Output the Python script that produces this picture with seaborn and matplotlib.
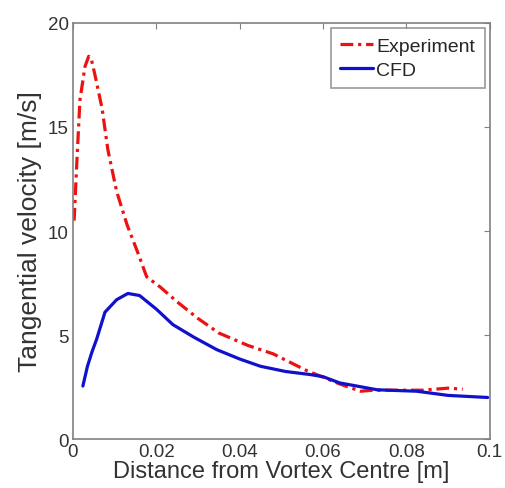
import numpy as np
import pandas as pd
import matplotlib
matplotlib.use("Agg")
import matplotlib.pyplot as plt
import seaborn as sns

exp_x = [0.0003, 0.0010, 0.0017, 0.0029, 0.0038, 0.0045, 0.0053, 0.0070, 0.0084, 0.0105,
         0.0130, 0.0155, 0.0177, 0.0210, 0.0250, 0.0300, 0.0350, 0.0420, 0.0480, 0.0520,
         0.0560, 0.0640, 0.0690, 0.0720, 0.0780, 0.0840, 0.0900, 0.0935]
exp_y = [10.5, 13.5, 16.3, 17.9, 18.4, 18.2, 17.5, 15.9, 13.9, 11.9,
         10.3, 9.0, 7.8, 7.3, 6.6, 5.8, 5.1, 4.5, 4.1, 3.7,
         3.3, 2.65, 2.3, 2.35, 2.35, 2.35, 2.45, 2.4]

cfd_x = [0.0024, 0.0035, 0.0046, 0.0057, 0.0077, 0.0105, 0.0132, 0.0160, 0.0200, 0.0240,
         0.0290, 0.0345, 0.0400, 0.0450, 0.0510, 0.0570, 0.0600, 0.0640, 0.0730, 0.0825,
         0.0900, 0.0995]
cfd_y = [2.55, 3.5, 4.2, 4.8, 6.1, 6.7, 7.0, 6.9, 6.25, 5.5,
         4.9, 4.3, 3.85, 3.5, 3.25, 3.1, 3.0, 2.7, 2.37, 2.3,
         2.1, 2.0]

df = pd.concat([
    pd.DataFrame({"x": exp_x, "y": exp_y, "series": "Experiment"}),
    pd.DataFrame({"x": cfd_x, "y": cfd_y, "series": "CFD"}),
])

sns.set_style("white")
plt.rcParams["font.family"] = ["Liberation Sans", "DejaVu Sans"]

fig = plt.figure(figsize=(5.06, 4.89), dpi=100)
ax = fig.add_axes([0.144, 0.100, 0.824, 0.851])

sns.lineplot(data=df, x="x", y="y", hue="series", style="series",
             palette={"Experiment": "#ee1111", "CFD": "#1111cc"},
             dashes={"Experiment": (4, 1.5, 1, 1.5), "CFD": ""},
             linewidth=2.3, sort=False, ax=ax)

ax.set_xlim(0, 0.1)
ax.set_ylim(0, 20)
ax.set_xticks([0, 0.02, 0.04, 0.06, 0.08, 0.1])
ax.set_xticklabels(["0", "0.02", "0.04", "0.06", "0.08", "0.1"])
ax.set_yticks([0, 5, 10, 15, 20])
ax.set_xlabel("Distance from Vortex Centre [m]", fontsize=17, color="#333333", labelpad=0)
ax.set_ylabel("Tangential velocity [m/s]", fontsize=19, color="#333333", labelpad=4)
ax.tick_params(direction="in", length=4, top=True, right=True, labelsize=13.5,
               colors="#808080", labelcolor="#333333", pad=3)
for s in ax.spines.values():
    s.set_color("#808080")
    s.set_linewidth(1.2)

leg = ax.legend(loc="upper right", fontsize=14, frameon=True, fancybox=False,
                edgecolor="#808080", handlelength=1.7, handletextpad=0.15,
                borderpad=0.5, labelspacing=0.3, borderaxespad=0.25)
leg.get_frame().set_linewidth(1.2)

fig.savefig("out.png", dpi=100)
